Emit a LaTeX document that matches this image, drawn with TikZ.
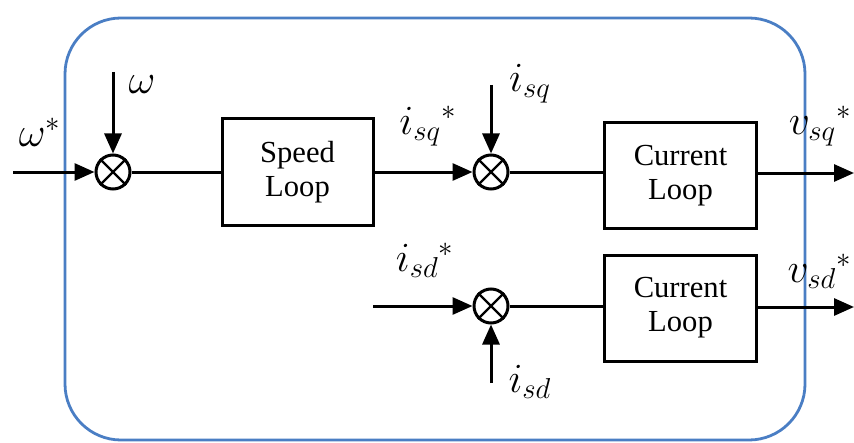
\documentclass[tikz,border=0pt]{standalone}
\usepackage{fontspec}
\setmainfont{Liberation Serif}
\usetikzlibrary{arrows.meta}
\begin{document}
\begin{tikzpicture}[x=0.5pt,y=-0.5pt,
  blk/.style={draw, line width=1.5pt, minimum width=76pt, minimum height=53pt, align=center, font=\fontsize{15.3}{17}\selectfont, inner sep=0pt},
  sumj/.style={draw, circle, line width=1.5pt, minimum size=17pt, inner sep=0pt},
  lbl/.style={font=\fontsize{20}{22}\selectfont, inner sep=0pt},
  conn/.style={line width=1.5pt},
  arr/.style={conn, -{Triangle[length=10pt,width=8.5pt]}},
  frame/.style={draw=frameblue, line width=1.4pt, rounded corners=28pt},
]
\definecolor{frameblue}{RGB}{74,126,196}
\useasboundingbox (0,0) rectangle (854,443);
\draw[frame] (65,18) rectangle (805,440);

% blocks
\node[blk, minimum width=75.5pt] (sl) at (297.5,172) {Speed\\Loop};
\node[blk] (cl1) at (680.5,175.5) {Current\\Loop};
\node[blk] (cl2) at (680.5,308) {Current\\Loop};

% summing junctions
\node[sumj] (s1) at (113,172) {};
\node[sumj] (s2) at (491,172) {};
\node[sumj] (s3) at (491,306) {};
\foreach \s in {s1,s2,s3}{
  \draw[line width=1.2pt] (\s.north west) -- (\s.south east);
  \draw[line width=1.2pt] (\s.north east) -- (\s.south west);
}

% free ends
\coordinate (win) at (13,172);
\coordinate (wfb) at (113,72);
\coordinate (iqfb) at (491,85);
\coordinate (idin) at (373,306);
\coordinate (idfb) at (491,383);
\coordinate (vq) at (854,173);
\coordinate (vd) at (854,307);

% connectors
\draw[arr] (win) -- (s1.west);
\draw[arr] (wfb) -- (s1.north);
\draw[conn] (s1.east) -- (s1.east -| sl.west);
\draw[arr] (sl.east |- s2) -- (s2.west);
\draw[arr] (iqfb) -- (s2.north);
\draw[conn] (s2.east) -- (s2.east -| cl1.west);
\draw[arr] (cl1.east |- vq) -- (vq);
\draw[arr] (idin) -- (s3.west);
\draw[arr] (idfb) -- (s3.south);
\draw[conn] (s3.east) -- (s3.east -| cl2.west);
\draw[arr] (cl2.east |- vd) -- (vd);

% labels
\node[lbl] (lw1) at (40,132) {$\omega^{*}$};
\node[lbl] (lw2) at (142,85) {$\omega$};
\node[lbl] (liq1) at (428,126) {$i_{sq}{}^{*}$};
\node[lbl] (liq2) at (530,84) {$i_{sq}$};
\node[lbl] (lid1) at (425,260) {$i_{sd}{}^{*}$};
\node[lbl] (lid2) at (530,382) {$i_{sd}$};
\node[lbl, anchor=east] (lvq) at (852,126) {$v_{sq}{}^{*}$};
\node[lbl, anchor=east] (lvd) at (852,271) {$v_{sd}{}^{*}$};
\end{tikzpicture}
\end{document}
